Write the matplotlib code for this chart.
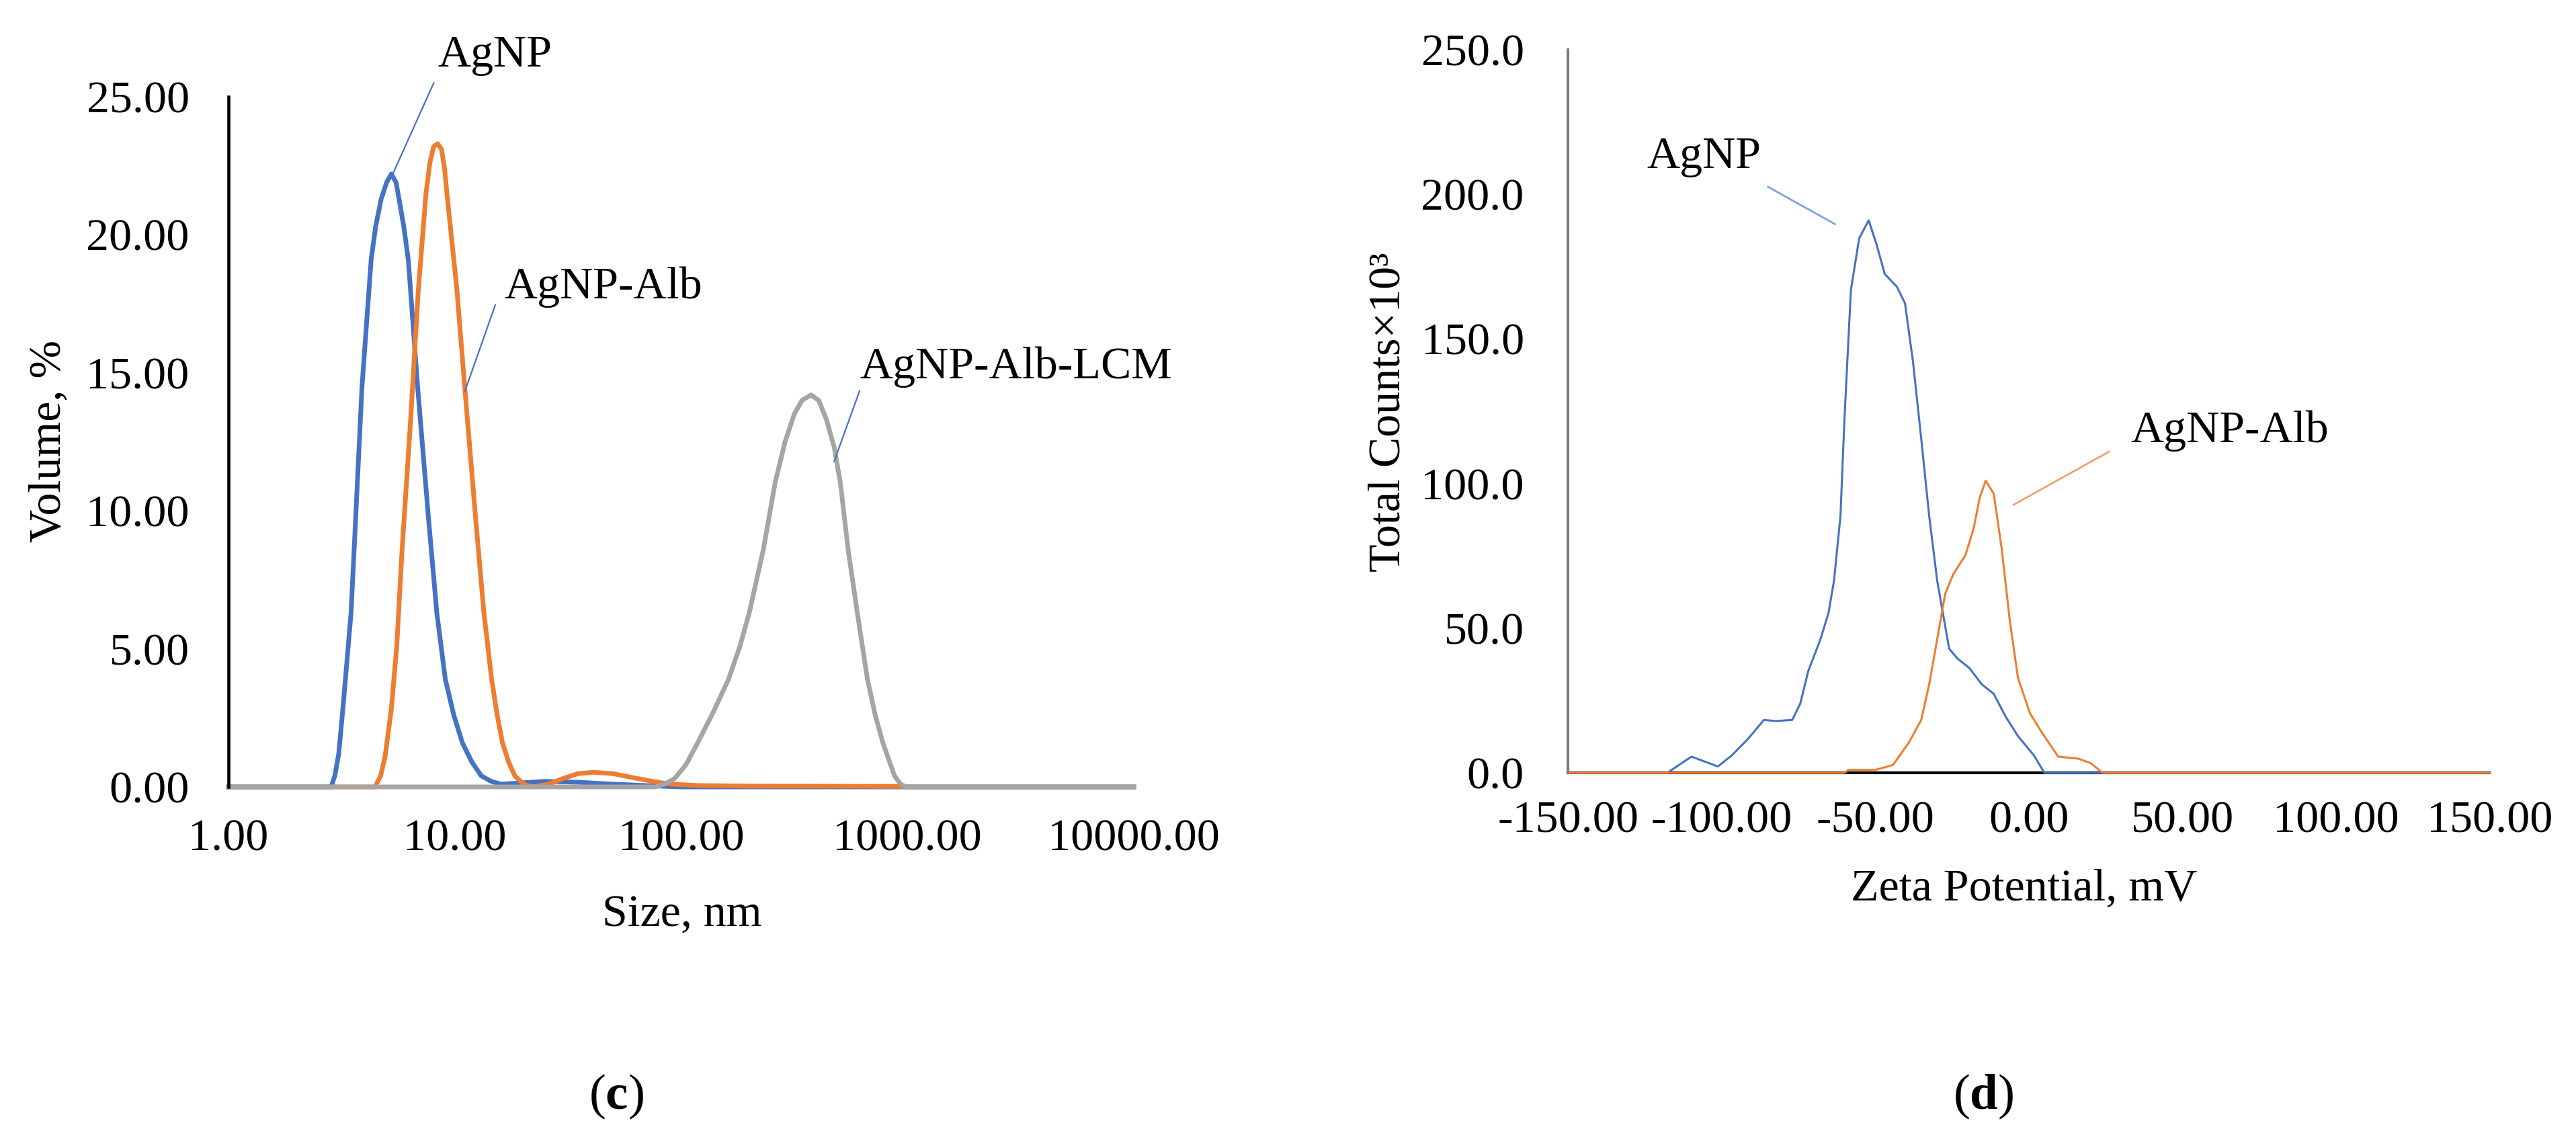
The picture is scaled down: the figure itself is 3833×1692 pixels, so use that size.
import matplotlib
matplotlib.use("Agg")
import matplotlib.pyplot as plt

plt.rcParams["font.family"] = ["Liberation Serif", "DejaVu Serif"]
plt.rcParams["font.size"] = 49
plt.rcParams["mathtext.fontset"] = "custom"
plt.rcParams["mathtext.rm"] = "Liberation Serif"
plt.rcParams["mathtext.bf"] = "Liberation Serif:bold"

# (c) size distribution, volume %
agnp_size = [1.0, 2.84, 2.95, 3.07, 3.20, 3.48, 3.65, 3.89, 4.27, 4.47, 4.73, 5.0,
             5.24, 5.5, 5.67, 5.95, 6.23, 6.85, 7.64, 8.33, 9.08, 9.9, 10.8, 11.9,
             13.1, 14.5, 16.0, 20.0, 25.0, 35.0, 50.0, 70.0, 100.0, 10000.0]
agnp_vol = [0, 0, 0.4, 1.2, 2.8, 6.3, 9.8, 14.5, 19.1, 20.3, 21.3, 21.9,
            22.2, 21.9, 21.3, 20.3, 19.1, 14.5, 9.8, 6.3, 3.9, 2.6, 1.6, 0.9,
            0.4, 0.2, 0.1, 0.15, 0.2, 0.17, 0.1, 0.05, 0, 0]

alb_size = [1.0, 4.44, 4.7, 4.92, 5.24, 5.54, 5.85, 6.38, 6.90, 7.46, 7.76, 8.07,
            8.40, 8.74, 9.01, 9.23, 10.22, 11.06, 12.34, 13.45, 14.55, 15.4, 16.24,
            17.3, 18.41, 20.2, 22.0, 26.0, 30.0, 35.0, 41.0, 50.0, 60.0, 75.0, 90.0,
            120.0, 200.0, 900.0, 1000.0, 10000.0]
alb_vol = [0, 0, 0.4, 1.1, 2.8, 5.1, 8.6, 13.3, 18.0, 21.5, 22.6, 23.2,
           23.3, 23.1, 22.4, 21.5, 18.0, 14.5, 9.8, 6.3, 3.9, 2.6, 1.6,
           0.9, 0.4, 0.1, 0.0, 0.1, 0.3, 0.48, 0.53, 0.48, 0.35, 0.2, 0.1,
           0.05, 0.03, 0.02, 0, 0]

lcm_size = [1.0, 76.9, 84.5, 93.5, 105, 118.4, 138.6, 162, 182, 200, 231, 260, 288,
            316, 342, 375, 406, 439, 475, 506, 547, 601, 666, 721, 779, 877, 933,
            986, 10000.0]
lcm_vol = [0, 0, 0.1, 0.3, 0.8, 1.6, 2.7, 3.9, 5.1, 6.3, 8.6, 11.0, 12.5,
           13.5, 14.0, 14.2, 14.0, 13.3, 12.3, 11.0, 8.6, 6.3, 3.9, 2.6, 1.6, 0.4, 0.1,
           0, 0]

size_ticks = [1, 10, 100, 1000, 10000]
vol_ticks = [0, 5, 10, 15, 20, 25]

# (d) zeta potential distribution
zeta_agnp_x = [-150, -117.7, -109.8, -101.2, -96.7, -91.5, -86.2, -82.3, -77.0, -74.4,
               -71.8, -67.8, -65.2, -63.4, -61.3, -60.0, -57.9, -55.2, -52.1, -49.5,
               -46.9, -42.9, -40.3, -37.7, -35.0, -32.4, -29.8, -25.9, -23.2, -19.3,
               -15.3, -11.4, -7.5, -3.5, 1.7, 5.1, 150]
zeta_agnp_y = [0, 0, 5.6, 2.2, 6.0, 11.6, 18.3, 17.9, 18.3, 23.9,
               35.1, 46.2, 55.2, 66.4, 88.7, 122.2, 166.9, 184.8, 191.0, 182.5,
               172.5, 168.0, 162.4, 142.3, 115.5, 88.7, 66.4, 42.9, 39.5, 36.2,
               30.6, 27.3, 19.4, 12.7, 6.0, 0, 0]

zeta_alb_x = [-150, -60.0, -58.7, -50.0, -44.2, -39.0, -35.0, -32.4, -29.8, -27.2,
              -24.6, -20.6, -18.0, -15.9, -14.0, -11.4, -8.8, -6.2, -3.5, 0.4,
              4.3, 9.6, 16.1, 20.1, 24.0, 150]
zeta_alb_y = [0, 0, 1.0, 1.0, 2.7, 10.5, 18.3, 30.6, 46.2, 61.9,
              68.6, 75.3, 84.2, 95.4, 101.0, 96.5, 77.5, 52.9, 32.8, 20.6,
              13.9, 5.6, 4.9, 3.4, 0, 0]

zeta_ticks = [-150, -100, -50, 0, 50, 100, 150]
count_ticks = [0, 50, 100, 150, 200, 250]

blue = "#4472C4"
orange = "#ED7D31"
gray = "#A5A5A5"

fig = plt.figure(figsize=(38.33, 16.92), dpi=100)

# ---- panel (c)
ax1 = fig.add_axes([0.0887, 0.3079, 0.3514, 0.607])
ax1.plot(agnp_size, agnp_vol, color=blue, lw=5, clip_on=False, solid_joinstyle="round")
ax1.plot(alb_size, alb_vol, color=orange, lw=5, clip_on=False, solid_joinstyle="round")
ax1.plot(lcm_size, lcm_vol, color=gray, lw=5, clip_on=False, solid_joinstyle="round")
ax1.set_xscale("log")
ax1.set_xlim(1, 10000)
ax1.set_ylim(0, 25)
ax1.set_xticks(size_ticks)
ax1.set_xticklabels([f"{v:.2f}" for v in size_ticks])
ax1.minorticks_off()
ax1.set_yticks(vol_ticks)
ax1.set_yticklabels([f"{v:.2f}" for v in vol_ticks])
ax1.tick_params(axis="x", length=0, pad=34)
ax1.tick_params(axis="y", length=0, pad=42)
for s in ["top", "right", "bottom"]:
    ax1.spines[s].set_visible(False)
ax1.spines["left"].set_linewidth(3.3)
ax1.spines["left"].set_color("black")

ax1.plot([8.07, 5.32], [25.5, 22.2], color=blue, lw=1.6, clip_on=False)
ax1.text(8.4, 26.5, "AgNP", va="center", ha="left")
ax1.plot([15.1, 11.1], [17.46, 14.35], color=blue, lw=1.6)
ax1.text(16.6, 18.1, "AgNP-Alb", va="center", ha="left")
ax1.plot([615, 475], [14.35, 11.8], color=blue, lw=1.6)
ax1.text(615, 15.2, "AgNP-Alb-LCM", va="center", ha="left")

fig.text(0.2648, 1 - 1361 / 1692, "Size, nm", ha="center", va="center")
fig.text(0.019, 0.6123, "Volume, %", ha="center", va="center", rotation=90)
fig.text(0.2392, 0.0355, r"($\mathbf{c}$)", ha="center", va="center", fontsize=54)

# ---- panel (d)
ax2 = fig.add_axes([0.6087, 0.3203, 0.3577, 0.636])
ax2.plot(zeta_agnp_x, zeta_agnp_y, color=blue, lw=2.2, clip_on=False)
ax2.plot(zeta_alb_x, zeta_alb_y, color=orange, lw=2.2, clip_on=False)
ax2.set_xlim(-150, 150)
ax2.set_ylim(0, 250)
ax2.set_xticks(zeta_ticks)
ax2.set_xticklabels([f"{v:.2f}" for v in zeta_ticks])
ax2.set_yticks(count_ticks)
ax2.set_yticklabels([f"{v:.1f}" for v in count_ticks])
ax2.tick_params(axis="x", length=0, pad=30)
ax2.tick_params(axis="y", length=0, pad=47)
for s in ["top", "right"]:
    ax2.spines[s].set_visible(False)
ax2.spines["left"].set_linewidth(3)
ax2.spines["left"].set_color("#7F7F7F")
ax2.spines["bottom"].set_linewidth(3)
ax2.spines["bottom"].set_color("black")
ax2.spines["bottom"].set_zorder(0.5)

ax2.plot([-84.9, -63.1], [202.6, 189.7], color="#7FA0DA", lw=2)
ax2.text(-124.3, 213, "AgNP", va="center", ha="left")
ax2.plot([26.1, -4.9], [111.0, 92.7], color="#F2A06A", lw=2)
ax2.text(33.2, 118.2, "AgNP-Alb", va="center", ha="left")

fig.text(0.7858, 1 - 1323 / 1692, "Zeta Potential, mV", ha="center", va="center")
fig.text(0.539, 0.6377, "Total Counts×10³", ha="center", va="center", rotation=90)
fig.text(0.7699, 0.0355, r"($\mathbf{d}$)", ha="center", va="center", fontsize=54)

fig.savefig("out.png", dpi=100, facecolor="white")
